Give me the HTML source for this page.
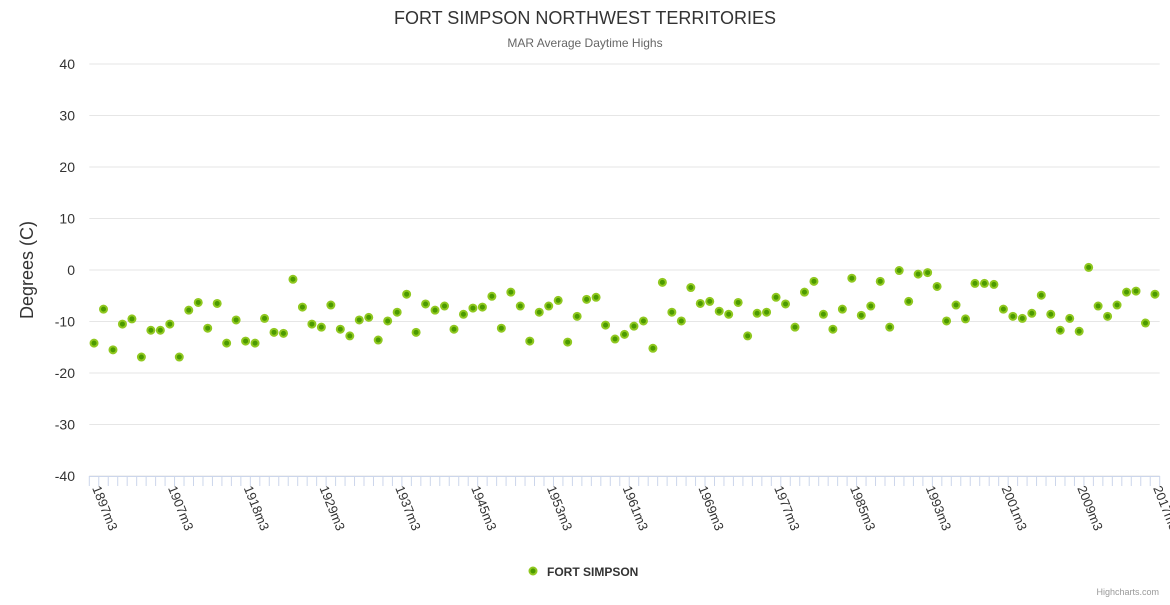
<!DOCTYPE html>
<html><head><meta charset="utf-8"><style>
body{margin:0;background:#fff;}
svg text{font-family:"Liberation Sans",sans-serif;}
</style></head><body>
<svg id="chart" width="1170" height="600" xmlns="http://www.w3.org/2000/svg">
<rect width="1170" height="600" fill="#fff"/>
<text x="585" y="24" text-anchor="middle" font-size="18" fill="#333">FORT SIMPSON NORTHWEST TERRITORIES</text>
<text x="585" y="47" text-anchor="middle" font-size="12" fill="#666">MAR Average Daytime Highs</text>
<text transform="translate(33,270) rotate(-90)" text-anchor="middle" font-size="18" fill="#333">Degrees (C)</text>
<g id="grid"></g><g id="xaxis"></g><g id="points"></g>
<g>
<circle cx="533" cy="571" r="3.5" fill="#4b9a00" stroke="#90c820" stroke-width="2"/>
<text x="547" y="576" font-size="12" font-weight="bold" fill="#333">FORT SIMPSON</text>
</g>
<text x="1159" y="595" text-anchor="end" font-size="9" fill="#999">Highcharts.com</text>
</svg>
<script>
const yTicks=[40,30,20,10,0,-10,-20,-30,-40];
const categories=(function(){const a=[];
[1897,1899,1900,1902,1903,1904,1905,1906,1907,1909,1910,1911,1913,1914,1915,1917,1918,1920,1921,1922,1924,1925,1927,1928,1929,1930,1931,1932,1933,1934,1935,1936].forEach(y=>a.push(y+'m3'));
for(let y=1937;y<=2017;y++)a.push(y+'m3');return a;})();
const values=[-14.2,-7.6,-15.5,-10.5,-9.5,-16.9,-11.7,-11.7,-10.5,-16.9,-7.8,-6.3,-11.3,-6.5,-14.2,-9.7,-13.8,-14.2,-9.4,-12.1,-12.3,-1.8,-7.2,-10.5,-11.1,-6.8,-11.5,-12.8,-9.7,
-9.2,-13.6,-9.9,-8.2,-4.7,-12.1,-6.6,-7.8,-7.0,-11.5,-8.6,-7.4,-7.2,-5.1,-11.3,-4.3,-7.0,-13.8,-8.2,-7.0,-5.9,-14.0,-9.0,-5.7,-5.3,-10.7,-13.4,-12.5,-10.9,
-9.9,-15.2,-2.4,-8.2,-9.9,-3.4,-6.5,-6.1,-8.0,-8.6,-6.3,-12.8,-8.4,-8.2,-5.3,-6.6,-11.1,-4.3,-2.2,-8.6,-11.5,-7.6,-1.6,-8.8,-7.0,-2.2,-11.1,-0.1,
-6.1,-0.8,-0.5,-3.2,-9.9,-6.8,-9.5,-2.6,-2.6,-2.8,-7.6,-9.0,-9.4,-8.4,-4.9,-8.6,-11.7,-9.4,-11.9,0.5,-7.0,-9.0,-6.8,-4.3,-4.1,-10.3,-4.7];
const NS='http://www.w3.org/2000/svg';
const L=89.3,R=1159.7,T=64,B=476,yMin=-40,yMax=40;
const cw=(R-L)/categories.length;
const xS=i=>L+cw*(i+0.5);
const yS=v=>B-(v-yMin)/(yMax-yMin)*(B-T);
function mk(t,a,p){const e=document.createElementNS(NS,t);for(const k in a)e.setAttribute(k,a[k]);p.appendChild(e);return e;}
const grid=document.getElementById('grid');
yTicks.forEach(v=>{
 const ln=mk('line',{x1:L,x2:R,y1:yS(v),y2:yS(v),stroke:'#e6e6e6','stroke-width':1},grid);
 
 
 const t=mk('text',{x:75,y:yS(v)+5,'text-anchor':'end','font-size':14,fill:'#333'},grid);
 t.textContent=v;
 
 
});
const xa=document.getElementById('xaxis');
const ax=mk('line',{x1:L,x2:R,y1:B+0.5,y2:B+0.5,stroke:'#ccd6eb'},xa);


for(let i=0;i<=categories.length;i++){
 const tk=mk('line',{x1:L+cw*i,x2:L+cw*i,y1:B,y2:B+10,stroke:'#ccd6eb'},xa);
 
 
}
categories.forEach((c,i)=>{
 if(i%8!==0)return;
 const x=xS(i)-2,y=B+12;
 const t=mk('text',{x:x,y:y,'font-size':13,fill:'#333',transform:`rotate(68 ${x} ${y})`},xa);
 t.textContent=c;
 
 
});
const pts=document.getElementById('points');
values.forEach((v,i)=>{
 const c=mk('circle',{cx:xS(i),cy:yS(v),r:3.5,fill:'#4b9a00',stroke:'#90c820','stroke-width':2},pts);
 
 
});
</script>
</body></html>
